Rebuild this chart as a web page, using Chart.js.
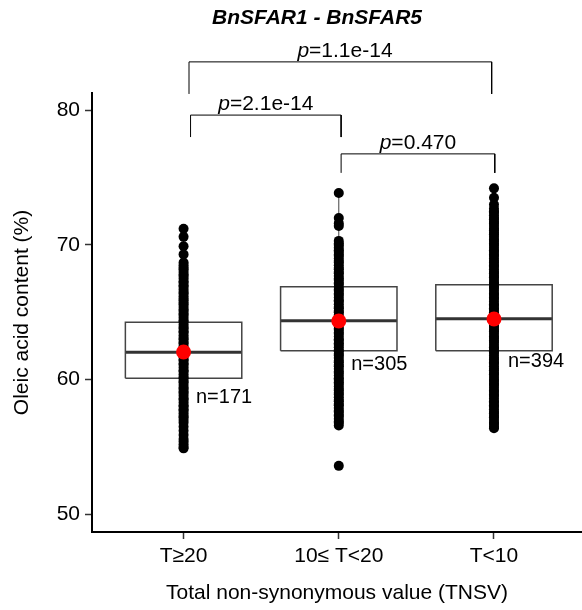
<!DOCTYPE html>
<html>
<head>
<meta charset="utf-8">
<script src="https://cdn.jsdelivr.net/npm/chart.js@4.4.1/dist/chart.umd.min.js"></script>
<style>
  html, body { margin: 0; padding: 0; background: #fff; }
  canvas { display: block; }
</style>
</head>
<body>
<canvas id="oleicChart" width="582" height="610"></canvas>
<script>
// groups on the x axis
var groups = ['T\u226520', '10\u2264 T<20', 'T<10'];
var groupCounts = [171, 305, 394];

// box statistics (oleic acid %)
var q1Values = [60.10, 62.15, 62.15];
var medianValues = [62.03, 64.38, 64.53];
var q3Values = [64.26, 66.90, 67.05];
var whiskerLow = [54.90, 56.60, 56.40];
var whiskerHigh = [71.20, 73.85, 74.20];
var meanValues = [62.05, 64.35, 64.50];

// individual lines
var pointsTge20 = [71.2, 70.6, 69.9, 69.3, 68.7,
  68.5, 68.3, 68.2, 68.0, 67.8, 67.7, 67.5, 67.3, 67.2, 67.0, 66.9, 66.7, 66.5, 66.4, 66.2, 66.0,
  65.9, 65.7, 65.6, 65.4, 65.2, 65.1, 64.9, 64.8, 64.6, 64.4, 64.3, 64.1, 63.9, 63.8, 63.6, 63.5,
  63.3, 63.1, 63.0, 62.8, 62.7, 62.5, 62.3, 62.2, 62.0, 61.9, 61.7, 61.5, 61.4, 61.2, 61.1, 60.9,
  60.7, 60.6, 60.4, 60.2, 60.1, 59.9, 59.8, 59.6, 59.4, 59.3, 59.1, 59.0, 58.8, 58.6, 58.5, 58.3,
  58.1, 58.0, 57.8, 57.7, 57.5, 57.3, 57.2, 57.0,
  56.8, 56.5, 56.2, 55.9, 55.6, 55.4, 55.2, 55.0, 54.9];
var points10to20 = [73.85, 72.0, 71.6, 71.4,
  70.3, 70.1, 70.0, 69.8, 69.6, 69.5, 69.3, 69.2, 69.0, 68.8, 68.7, 68.5, 68.3, 68.2, 68.0, 67.9,
  67.7, 67.5, 67.4, 67.2, 67.1, 66.9, 66.7, 66.6, 66.4, 66.3, 66.1, 65.9, 65.8, 65.6, 65.4, 65.3,
  65.1, 65.0, 64.8, 64.6, 64.5, 64.3, 64.2, 64.0, 63.8, 63.7, 63.5, 63.4, 63.2, 63.0, 62.9, 62.7,
  62.6, 62.4, 62.2, 62.1, 61.9, 61.8, 61.6, 61.4, 61.3, 61.1, 61.0, 60.8, 60.6, 60.5, 60.3, 60.1,
  60.0, 59.8, 59.7, 59.5, 59.3, 59.2, 59.0, 58.9, 58.7, 58.5, 58.4, 58.2, 58.1, 57.9, 57.7, 57.6,
  57.4, 57.3, 57.1, 56.9, 56.8, 56.6,
  53.6];
var pointsTlt10 = [74.2, 73.5, 73.0,
  72.7, 72.5, 72.4, 72.2, 72.0, 71.9, 71.7, 71.6, 71.4, 71.2, 71.1, 70.9, 70.8, 70.6, 70.4, 70.3,
  70.1, 70.0, 69.8, 69.6, 69.5, 69.3, 69.2, 69.0, 68.8, 68.7, 68.5, 68.4, 68.2, 68.0, 67.9, 67.7,
  67.6, 67.4, 67.2, 67.1, 66.9, 66.8, 66.6, 66.4, 66.3, 66.1, 66.0, 65.8, 65.6, 65.5, 65.3, 65.2,
  65.0, 64.8, 64.7, 64.5, 64.4, 64.2, 64.0, 63.9, 63.7, 63.6, 63.4, 63.2, 63.1, 62.9, 62.8, 62.6,
  62.4, 62.3, 62.1, 62.0, 61.8, 61.6, 61.5, 61.3, 61.2, 61.0, 60.8, 60.7, 60.5, 60.4, 60.2, 60.0,
  59.9, 59.7, 59.6, 59.4, 59.2, 59.1, 58.9, 58.8, 58.6, 58.4, 58.3, 58.1, 58.0, 57.8, 57.6, 57.5,
  57.3, 57.2, 57.0, 56.8, 56.7, 56.5, 56.4];
var groupPoints = [pointsTge20, points10to20, pointsTlt10];

// pairwise tests
var pairs = [[1, 3], [1, 2], [2, 3]];
var pValues = ['1.1e-14', '2.1e-14', '0.470'];

// bracket placement (data units)
var bracketTop = [83.59, 79.64, 76.76];
var bracketLeg = [81.21, 78.01, 75.35];
var bracketInset = [[0.035, -0.015], [0.045, 0.015], [0.015, 0.005]];
var bracketLabelX = [2.04, 1.53, 2.51];
var nLabelPos = [[1.08, 58.7], [2.08, 61.09], [3.09, 61.33]];

var boxHalf = 0.375;
var FONT = '"Liberation Sans", Arial, sans-serif';

var datasets = [];

// mean points (on top)
datasets.push({
  data: meanValues.map(function (v, i) { return { x: i + 1, y: v }; }),
  pointRadius: 7.5, pointBackgroundColor: '#ff0000', pointBorderWidth: 0,
  showLine: false, order: 0
});

// dot columns
groupPoints.forEach(function (arr, i) {
  datasets.push({
    data: arr.map(function (v) { return { x: i + 1, y: v }; }),
    pointRadius: 5, pointBackgroundColor: '#000', pointBorderWidth: 0,
    showLine: false, order: 1
  });
});

// boxes, medians and whiskers
for (var i = 0; i < groups.length; i++) {
  var c = i + 1;
  datasets.push({
    data: [
      { x: c - boxHalf, y: q1Values[i] }, { x: c + boxHalf, y: q1Values[i] },
      { x: c + boxHalf, y: q3Values[i] }, { x: c - boxHalf, y: q3Values[i] },
      { x: c - boxHalf, y: q1Values[i] }
    ],
    showLine: true, pointRadius: 0, borderColor: '#444', borderWidth: 1.5,
    fill: false, tension: 0, order: 2
  });
  datasets.push({
    data: [{ x: c - boxHalf, y: medianValues[i] }, { x: c + boxHalf, y: medianValues[i] }],
    showLine: true, pointRadius: 0, borderColor: '#333', borderWidth: 3, order: 2
  });
  datasets.push({
    data: [{ x: c, y: q3Values[i] }, { x: c, y: whiskerHigh[i] }],
    showLine: true, pointRadius: 0, borderColor: '#444', borderWidth: 1, order: 3
  });
  datasets.push({
    data: [{ x: c, y: q1Values[i] }, { x: c, y: whiskerLow[i] }],
    showLine: true, pointRadius: 0, borderColor: '#444', borderWidth: 1, order: 3
  });
}

// significance brackets
pairs.forEach(function (p, k) {
  var a = p[0] + bracketInset[k][0], b = p[1] + bracketInset[k][1];
  datasets.push({
    data: [{ x: a, y: bracketLeg[k] }, { x: a, y: bracketTop[k] }, { x: b, y: bracketTop[k] }, { x: b, y: bracketLeg[k] }],
    showLine: true, pointRadius: 0, borderColor: '#000', borderWidth: 1,
    clip: false, order: 3
  });
});

var textPlugin = {
  id: 'texts',
  afterDatasetsDraw: function (chart) {
    var ctx = chart.ctx, xs = chart.scales.x, ys = chart.scales.y;
    ctx.save();
    ctx.fillStyle = '#000';

    ctx.font = 'italic bold 21px ' + FONT;
    ctx.textAlign = 'center';
    ctx.textBaseline = 'middle';
    ctx.fillText('BnSFAR1 - BnSFAR5', 317, 18);

    ctx.textAlign = 'left';
    ctx.textBaseline = 'alphabetic';
    pValues.forEach(function (pv, k) {
      var italic = 'italic 21px ' + FONT, normal = '21px ' + FONT;
      ctx.font = italic; var w1 = ctx.measureText('p').width;
      ctx.font = normal; var w2 = ctx.measureText('=' + pv).width;
      var x0 = xs.getPixelForValue(bracketLabelX[k]) - (w1 + w2) / 2;
      var y = ys.getPixelForValue(bracketTop[k]) - 5;
      ctx.font = italic; ctx.fillText('p', x0, y);
      ctx.font = normal; ctx.fillText('=' + pv, x0 + w1, y);
    });

    ctx.font = '20px ' + FONT;
    ctx.textBaseline = 'middle';
    groupCounts.forEach(function (n, i) {
      ctx.fillText('n=' + n, xs.getPixelForValue(nLabelPos[i][0]), ys.getPixelForValue(nLabelPos[i][1]));
    });
    ctx.restore();
  }
};

new Chart(document.getElementById('oleicChart').getContext('2d'), {
  type: 'scatter',
  data: { datasets: datasets },
  options: {
    responsive: false,
    animation: false,
    layout: { autoPadding: false, padding: { top: 93, left: 0, right: 0, bottom: 0 } },
    plugins: { legend: { display: false }, tooltip: { enabled: false } },
    scales: {
      x: {
        type: 'linear',
        min: 0.41,
        max: 3.567,
        afterBuildTicks: function (scale) {
          scale.ticks = [{ value: 1 }, { value: 2 }, { value: 3 }];
        },
        afterFit: function (scale) { scale.height = 78; },
        ticks: {
          autoSkip: false,
          maxRotation: 0,
          padding: 5,
          color: '#000',
          font: { family: FONT, size: 21 },
          callback: function (v) { return groups[v - 1]; }
        },
        grid: { drawOnChartArea: false, drawTicks: true, tickLength: 7, tickColor: '#333', tickWidth: 1.5 },
        border: { display: true, color: '#000', width: 2 },
        title: {
          display: true,
          text: 'Total non-synonymous value (TNSV)',
          color: '#000',
          font: { family: FONT, size: 21 },
          padding: { top: 0, bottom: 4 }
        }
      },
      y: {
        min: 48.69,
        max: 81.28,
        afterBuildTicks: function (scale) {
          scale.ticks = [{ value: 50 }, { value: 60 }, { value: 70 }, { value: 80 }];
        },
        afterFit: function (scale) { scale.width = 92; },
        ticks: {
          padding: 5,
          color: '#000',
          font: { family: FONT, size: 21 }
        },
        grid: { drawOnChartArea: false, drawTicks: true, tickLength: 7, tickColor: '#333', tickWidth: 1.5 },
        border: { display: true, color: '#000', width: 2 },
        title: {
          display: true,
          text: 'Oleic acid content (%)',
          color: '#000',
          font: { family: FONT, size: 21 },
          padding: { top: 10, bottom: 0 }
        }
      }
    }
  },
  plugins: [textPlugin]
});
</script>
</body>
</html>
